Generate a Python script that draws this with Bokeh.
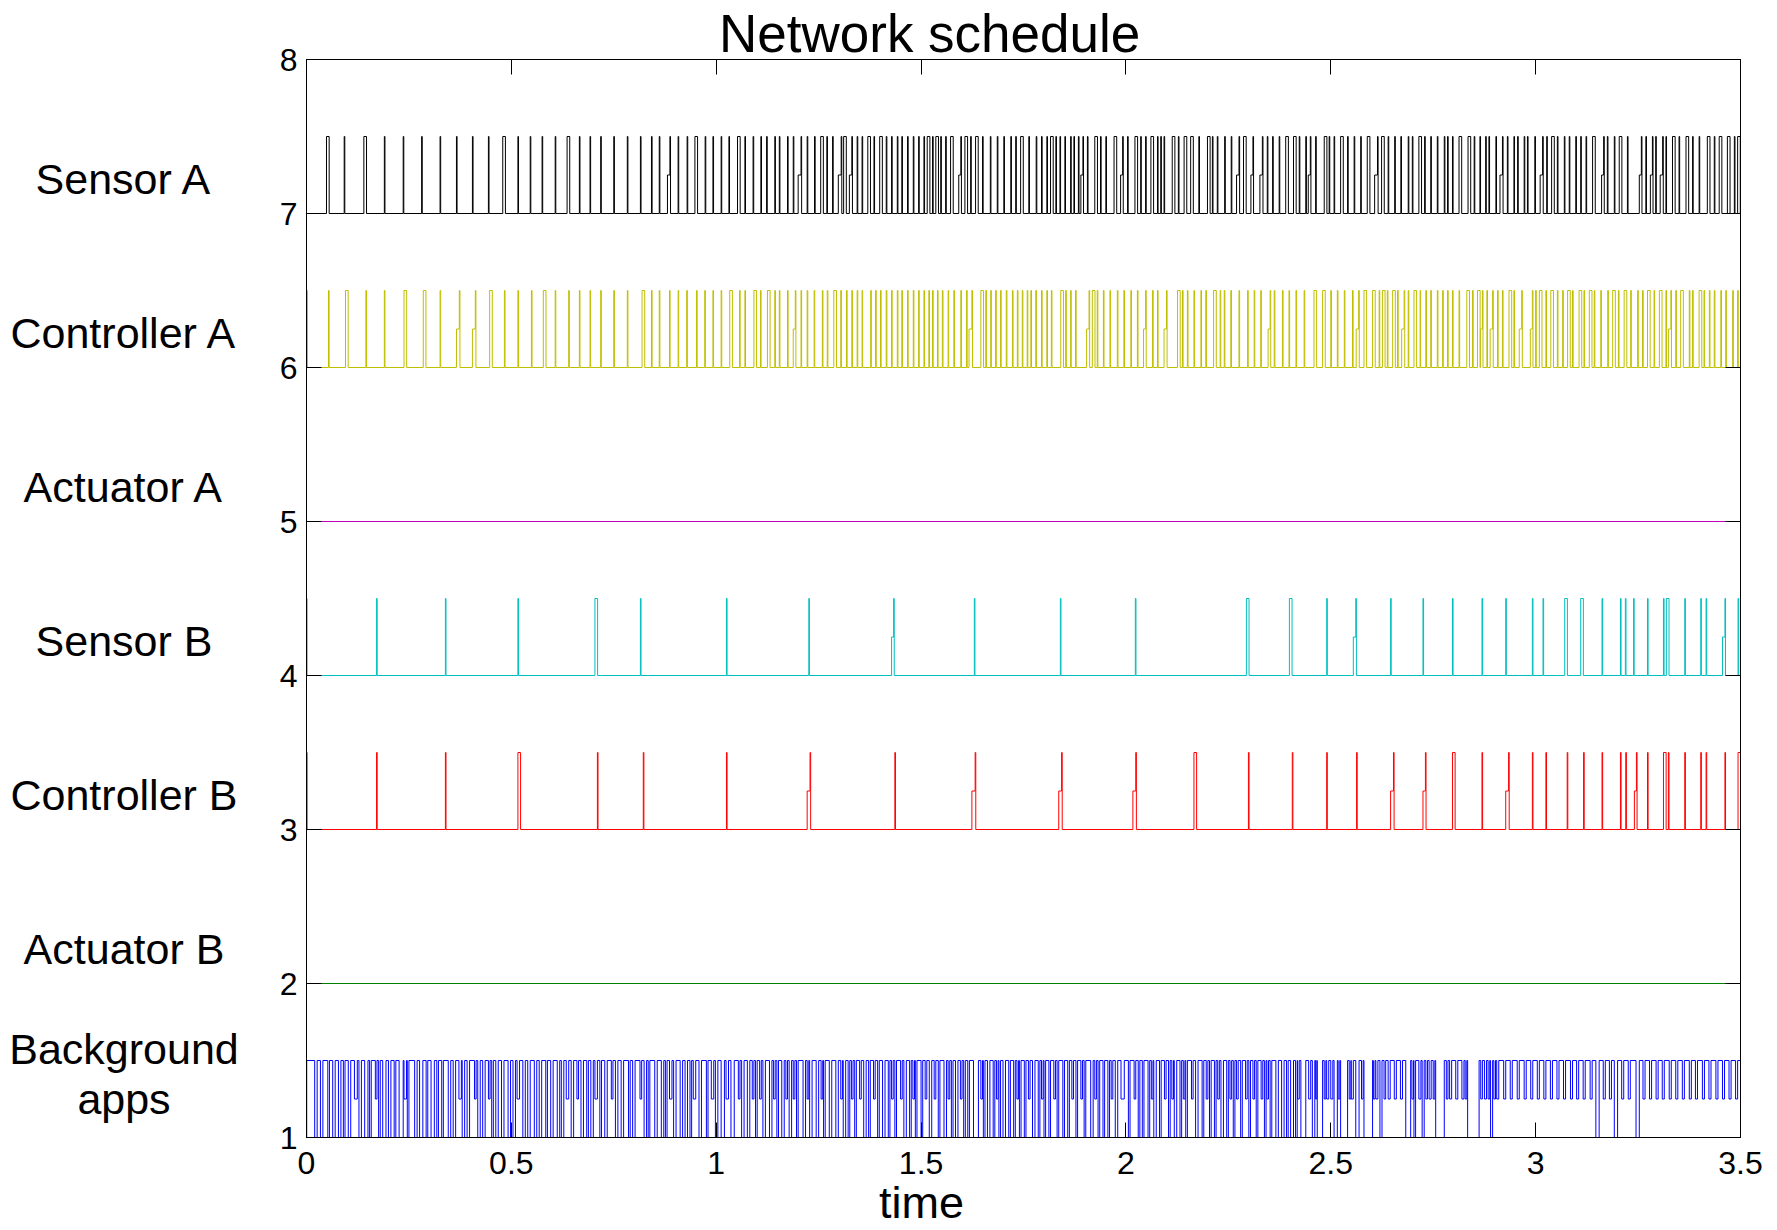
from bokeh.plotting import figure
from bokeh.models import FixedTicker, LinearAxis, Range1d, ColumnDataSource, Title
from bokeh.layouts import row
from bokeh.core.properties import value
from bokeh.embed import file_html
from bokeh.resources import INLINE

FONT = "Liberation Sans"

# ---------------- data ----------------
x_ticks = [0, 0.5, 1, 1.5, 2, 2.5, 3, 3.5]
x_tick_labels = ["0", "0.5", "1", "1.5", "2", "2.5", "3", "3.5"]
y_ticks = [1, 2, 3, 4, 5, 6, 7, 8]
title_text = "Network schedule"
x_label_text = "time"

row_names = ["Sensor A", "Controller A", "Actuator A", "Sensor B", "Controller B", "Actuator B"]
row_bases = [7, 6, 5, 4, 3, 2]
bg_name_lines = ["Background", "apps"]

T_END = 3.5
NARROW_DUR = 0.0015
WIDE_DUR = 0.0065

sensor_a_narrow = [0.092, 0.190, 0.236, 0.281, 0.326, 0.366, 0.405, 0.444, 0.516, 0.546, 0.575, 0.607,
                   0.666, 0.692, 0.718, 0.750, 0.783, 0.815, 0.842, 0.861, 0.887, 0.907, 0.929, 0.973,
                   0.992, 1.012, 1.031, 1.070, 1.090, 1.109, 1.123, 1.143, 1.154, 1.174, 1.188, 1.207,
                   1.222, 1.240, 1.270, 1.284, 1.305, 1.331, 1.344, 1.356, 1.385, 1.415, 1.428, 1.442,
                   1.453, 1.467, 1.481, 1.494, 1.507, 1.528, 1.548, 1.560, 1.597, 1.621, 1.650, 1.669,
                   1.686, 1.702, 1.719, 1.731, 1.763, 1.781, 1.794, 1.807, 1.829, 1.839, 1.851, 1.865,
                   1.873, 1.884, 1.895, 1.906, 1.938, 1.951, 1.992, 2.004, 2.036, 2.048, 2.077, 2.085,
                   2.093, 2.128, 2.178, 2.211, 2.223, 2.241, 2.257, 2.276, 2.310, 2.333, 2.345, 2.358,
                   2.374, 2.423, 2.439, 2.450, 2.463, 2.496, 2.508, 2.541, 2.557, 2.573, 2.614, 2.640,
                   2.656, 2.671, 2.689, 2.699, 2.729, 2.744, 2.760, 2.777, 2.785, 2.797, 2.850, 2.864,
                   2.878, 2.886, 2.903, 2.919, 2.931, 2.947, 2.956, 2.972, 2.980, 2.998, 3.017, 3.027,
                   3.053, 3.070, 3.082, 3.098, 3.110, 3.123, 3.166, 3.175, 3.192, 3.224, 3.258, 3.269,
                   3.285, 3.293, 3.310, 3.318, 3.350, 3.383, 3.399, 3.436, 3.485]
sensor_a_wide = [0.0488, 0.140, 0.479, 0.636, 0.948, 1.052, 1.255, 1.311, 1.370, 1.399, 1.515, 1.536,
                 1.572, 1.607, 1.633, 1.743, 1.816, 1.924, 1.971, 2.022, 2.061, 2.113, 2.142, 2.158,
                 2.199, 2.287, 2.390, 2.409, 2.484, 2.524, 2.589, 2.624, 2.715, 2.813, 2.835, 3.039,
                 3.139, 3.204, 3.334, 3.367, 3.419, 3.448, 3.468, 3.493]
sensor_a_wait = [0.881, 1.200, 1.298, 1.325, 1.592, 1.890, 1.987, 2.270, 2.305, 2.327, 2.445, 2.607,
                 2.913, 3.011, 3.161, 3.253, 3.280, 3.304]

ctrl_a_narrow = [0.001, 0.0537, 0.145, 0.190, 0.326, 0.373, 0.412, 0.483, 0.516, 0.549, 0.607, 0.640,
                 0.666, 0.692, 0.718, 0.750, 0.783, 0.842, 0.861, 0.886, 0.907, 0.928, 0.952, 0.972,
                 0.992, 1.012, 1.057, 1.070, 1.108, 1.143, 1.154, 1.174, 1.193, 1.207, 1.222, 1.239,
                 1.259, 1.271, 1.304, 1.318, 1.331, 1.344, 1.356, 1.377, 1.389, 1.401, 1.415, 1.428,
                 1.442, 1.453, 1.467, 1.481, 1.494, 1.507, 1.519, 1.528, 1.540, 1.552, 1.566, 1.580,
                 1.597, 1.611, 1.624, 1.658, 1.670, 1.682, 1.694, 1.708, 1.723, 1.735, 1.747, 1.759,
                 1.768, 1.780, 1.794, 1.807, 1.818, 1.853, 1.865, 1.877, 1.910, 1.930, 1.945, 1.961,
                 1.979, 1.995, 2.012, 2.028, 2.048, 2.065, 2.077, 2.099, 2.138, 2.150, 2.166, 2.183,
                 2.195, 2.230, 2.240, 2.256, 2.276, 2.297, 2.313, 2.329, 2.352, 2.362, 2.382, 2.398,
                 2.415, 2.435, 2.500, 2.516, 2.533, 2.553, 2.568, 2.618, 2.638, 2.663, 2.679, 2.689,
                 2.718, 2.732, 2.744, 2.760, 2.773, 2.785, 2.797, 2.813, 2.846, 2.870, 2.881, 2.895,
                 2.907, 2.919, 2.947, 2.966, 2.992, 3.000, 3.025, 3.053, 3.066, 3.090, 3.118, 3.143,
                 3.159, 3.176, 3.202, 3.232, 3.249, 3.261, 3.289, 3.318, 3.330, 3.342, 3.375, 3.383,
                 3.411, 3.424, 3.436, 3.452, 3.464, 3.481, 3.493]
ctrl_a_wide = [0.0952, 0.238, 0.285, 0.447, 0.578, 0.819, 1.033, 1.092, 1.125, 1.287, 1.646, 1.841,
               1.918, 2.126, 2.214, 2.459, 2.480, 2.581, 2.602, 2.626, 2.651, 2.703, 2.832, 2.858,
               2.935, 3.009, 3.037, 3.078, 3.106, 3.131, 3.188, 3.216, 3.273, 3.302, 3.354, 3.399]
ctrl_a_wait = [0.366, 0.405, 1.188, 1.617, 1.904, 2.043, 2.093, 2.347, 2.562, 2.673, 2.865, 2.889,
               2.960, 2.987, 3.324]

sens_b_narrow = [0.0, 0.171, 0.339, 0.516, 0.815, 1.025, 1.226, 1.433, 1.630, 1.840, 2.023, 2.490,
                 2.561, 2.646, 2.725, 2.797, 2.869, 2.927, 2.992, 3.018, 3.162, 3.207, 3.219, 3.239,
                 3.273, 3.312, 3.364, 3.403, 3.416, 3.462, 3.494]
sens_b_wide = [0.704, 2.294, 2.399, 3.071, 3.110, 3.319]
sens_b_wait = [1.428, 2.555, 3.456]

ctrl_b_narrow = [0.0, 0.171, 0.339, 0.710, 0.822, 1.025, 1.229, 1.436, 1.632, 1.843, 2.024, 2.299,
                 2.406, 2.490, 2.563, 2.653, 2.731, 2.869, 2.934, 2.992, 3.025, 3.077, 3.117, 3.162,
                 3.207, 3.220, 3.246, 3.273, 3.324, 3.364, 3.403, 3.416, 3.462]
ctrl_b_wide = [0.516, 2.166, 2.797, 3.312, 3.494]
ctrl_b_wait = [1.222, 1.624, 1.836, 2.017, 2.646, 2.725, 2.927, 3.241]

act_a_pulses = []
act_b_pulses = []

# background apps: mostly sending (1.5); idle dips (1.0) and waits (1.25)
bg_idle = [(0.0, 0.0005), (0.020, 0.026), (0.034, 0.040), (0.052, 0.056), (0.064, 0.070), (0.078, 0.084),
           (0.090, 0.094), (0.102, 0.108),
           (0.128, 0.134), (0.142, 0.150), (0.154, 0.158), (0.176, 0.180), (0.186, 0.194), (0.200, 0.206),
           (0.214, 0.218), (0.226, 0.236), (0.246, 0.250), (0.264, 0.270), (0.276, 0.284), (0.292, 0.296),
           (0.304, 0.312), (0.318, 0.322), (0.330, 0.334), (0.346, 0.352), (0.358, 0.364), (0.380, 0.386),
           (0.392, 0.398), (0.418, 0.424), (0.430, 0.436), (0.452, 0.456), (0.462, 0.468), (0.476, 0.482),
           (0.492, 0.498), (0.504, 0.510), (0.528, 0.534), (0.540, 0.546), (0.556, 0.562), (0.568, 0.574),
           (0.584, 0.588), (0.596, 0.602), (0.612, 0.618), (0.622, 0.628), (0.646, 0.652), (0.670, 0.676),
           (0.684, 0.688), (0.694, 0.700), (0.716, 0.720), (0.728, 0.734), (0.754, 0.760), (0.768, 0.774),
           (0.786, 0.790), (0.796, 0.802), (0.824, 0.830), (0.834, 0.838), (0.850, 0.856), (0.866, 0.872),
           (0.876, 0.880), (0.896, 0.902), (0.912, 0.918), (0.924, 0.930), (0.936, 0.940), (0.958, 0.964),
           (0.976, 0.980), (0.998, 1.004), (1.012, 1.020), (1.036, 1.044), (1.062, 1.068), (1.076, 1.082),
           (1.096, 1.100), (1.114, 1.120), (1.130, 1.136), (1.148, 1.152), (1.160, 1.166), (1.178, 1.184),
           (1.196, 1.200), (1.212, 1.218), (1.228, 1.234), (1.244, 1.250), (1.262, 1.266), (1.276, 1.282),
           (1.292, 1.298), (1.310, 1.316), (1.322, 1.326), (1.338, 1.342), (1.360, 1.366), (1.372, 1.376),
           (1.394, 1.398), (1.406, 1.412), (1.420, 1.424), (1.436, 1.440), (1.458, 1.464), (1.472, 1.476),
           (1.486, 1.490), (1.500, 1.504), (1.520, 1.526), (1.542, 1.546), (1.556, 1.562), (1.574, 1.578),
           (1.584, 1.590), (1.604, 1.608), (1.614, 1.618), (1.628, 1.640), (1.652, 1.656), (1.662, 1.668),
           (1.676, 1.680), (1.690, 1.694), (1.700, 1.706), (1.714, 1.718), (1.726, 1.730), (1.740, 1.744),
           (1.752, 1.756), (1.772, 1.778), (1.786, 1.790), (1.800, 1.804), (1.812, 1.816), (1.832, 1.836),
           (1.846, 1.850), (1.858, 1.862), (1.878, 1.882), (1.898, 1.902), (1.914, 1.920), (1.932, 1.936),
           (1.944, 1.948), (1.956, 1.960), (1.974, 1.980), (2.006, 2.010), (2.030, 2.034), (2.040, 2.044),
           (2.054, 2.058), (2.068, 2.074), (2.082, 2.086), (2.104, 2.108), (2.118, 2.124), (2.132, 2.136),
           (2.146, 2.150), (2.170, 2.176), (2.186, 2.190), (2.204, 2.208), (2.216, 2.220), (2.232, 2.238),
           (2.246, 2.250), (2.262, 2.266), (2.280, 2.284), (2.300, 2.304), (2.318, 2.322), (2.338, 2.342),
           (2.352, 2.356), (2.366, 2.372), (2.380, 2.386), (2.392, 2.396), (2.402, 2.409), (2.414, 2.418),
           (2.427, 2.439), (2.455, 2.461), (2.467, 2.480), (2.508, 2.516), (2.524, 2.541), (2.561, 2.569),
           (2.581, 2.602), (2.620, 2.625), (2.683, 2.695), (2.703, 2.707), (2.723, 2.728), (2.756, 2.777),
           (2.834, 2.862), (2.890, 2.895), (3.147, 3.155), (3.192, 3.200), (3.245, 3.253)]
bg_wait = [(0.117, 0.124), (0.168, 0.172), (0.238, 0.244), (0.372, 0.378), (0.410, 0.414), (0.444, 0.448),
           (0.514, 0.520), (0.634, 0.640), (0.660, 0.664), (0.704, 0.710), (0.744, 0.748), (0.814, 0.818),
           (0.886, 0.892), (0.944, 0.950), (0.988, 0.994), (1.024, 1.030), (1.054, 1.058), (1.088, 1.092),
           (1.106, 1.110), (1.140, 1.144), (1.170, 1.174), (1.188, 1.192), (1.222, 1.226), (1.256, 1.260),
           (1.304, 1.308), (1.330, 1.334), (1.350, 1.354), (1.384, 1.388), (1.428, 1.432), (1.450, 1.454),
           (1.480, 1.484), (1.510, 1.514), (1.532, 1.536), (1.566, 1.570), (1.596, 1.600), (1.646, 1.650),
           (1.684, 1.688), (1.734, 1.738), (1.762, 1.766), (1.794, 1.798), (1.824, 1.828), (1.868, 1.872),
           (1.890, 1.894), (1.924, 1.928), (1.964, 1.968), (1.988, 1.996), (2.020, 2.024), (2.062, 2.066),
           (2.094, 2.098), (2.112, 2.116), (2.140, 2.144), (2.160, 2.164), (2.196, 2.200), (2.224, 2.228),
           (2.254, 2.258), (2.270, 2.274), (2.292, 2.296), (2.310, 2.314), (2.330, 2.334), (2.344, 2.348),
           (2.419, 2.423), (2.446, 2.451), (2.463, 2.466), (2.484, 2.488), (2.490, 2.495), (2.500, 2.505),
           (2.518, 2.522), (2.545, 2.549), (2.550, 2.555), (2.575, 2.579), (2.604, 2.608), (2.610, 2.615),
           (2.630, 2.634), (2.640, 2.645), (2.655, 2.660), (2.670, 2.675), (2.698, 2.702), (2.715, 2.720),
           (2.732, 2.736), (2.740, 2.745), (2.750, 2.754), (2.782, 2.786), (2.790, 2.795), (2.805, 2.810),
           (2.820, 2.825), (2.828, 2.832), (2.866, 2.870), (2.875, 2.880), (2.884, 2.888), (2.898, 2.902),
           (2.905, 2.910), (2.922, 2.927), (2.938, 2.943),
           (2.955, 2.960), (2.972, 2.977), (2.988, 2.993), (3.004, 3.009), (3.020, 3.025), (3.036, 3.041),
           (3.052, 3.057), (3.068, 3.073), (3.085, 3.090), (3.100, 3.105), (3.116, 3.121), (3.133, 3.138),
           (3.165, 3.170), (3.180, 3.185), (3.210, 3.215), (3.226, 3.231), (3.262, 3.267), (3.278, 3.283),
           (3.294, 3.299), (3.309, 3.314), (3.326, 3.331), (3.342, 3.347), (3.358, 3.363), (3.375, 3.380),
           (3.390, 3.395), (3.407, 3.412), (3.423, 3.428), (3.440, 3.445), (3.456, 3.461), (3.472, 3.477),
           (3.488, 3.493)]

colors = {"Sensor A": "#000000", "Controller A": "#bfbf00", "Actuator A": "#bf00bf",
          "Sensor B": "#00bfbf", "Controller B": "#ff0000", "Actuator B": "#008000",
          "Background": "#0000ff"}

# ---------------- layout geometry (pixels) ----------------
TOTAL_W = 1777
TOTAL_H = 1230
NAMES_W = 246
MAIN_LEFT = 60
FRAME_W = 1434
MAIN_RIGHT = TOTAL_W - NAMES_W - MAIN_LEFT - FRAME_W
FRAME_H = 1078
MAIN_TOP = 59
MAIN_BOTTOM = TOTAL_H - MAIN_TOP - FRAME_H
TEXT_SHIFT = 0.42   # em; compensates the text glyph baseline placement


# ---------------- helpers ----------------
def trace(base, segs, t_end=T_END):
    xs, ys = [0.0], [base]
    level, last = base, 0.0
    for s, e, l in sorted(segs):
        s = max(s, last)
        e = min(e, t_end)
        if e <= s:
            continue
        if s > last and level != base:
            xs += [last, last]
            ys += [level, base]
            level = base
        xs += [s, s]
        ys += [level, l]
        level, last = l, e
    xs += [last, last, t_end]
    ys += [level, base, base]
    return xs, ys


def node_path(base, narrow, wide, waits):
    segs = [(t, t + NARROW_DUR, base + 0.5) for t in narrow]
    segs += [(t, t + WIDE_DUR, base + 0.5) for t in wide]
    starts = sorted(s for s, _, _ in segs)
    for w in waits:
        nxt = min(s for s in starts if s > w)
        segs.append((w, nxt, base + 0.25))
    return trace(base, segs)


# ---------------- main figure ----------------
y_range = Range1d(1, 8)
p = figure(frame_width=FRAME_W, frame_height=FRAME_H, min_border_left=MAIN_LEFT, min_border_right=MAIN_RIGHT,
           min_border_top=MAIN_TOP, min_border_bottom=MAIN_BOTTOM, x_range=Range1d(0, 3.5), y_range=y_range,
           output_backend="svg", toolbar_location=None)
p.title = Title(text=title_text, align="left", offset=412.5, vertical_align="bottom", standoff=-6,
                text_font=FONT, text_font_size="53px", text_font_style="normal", text_color="black")
p.title_location = "above"
p.background_fill_color = "white"
p.border_fill_color = "white"
p.outline_line_color = "black"
p.outline_line_width = 1
p.xgrid.visible = False
p.ygrid.visible = False

series = [
    ("Sensor A", 7, sensor_a_narrow, sensor_a_wide, sensor_a_wait),
    ("Controller A", 6, ctrl_a_narrow, ctrl_a_wide, ctrl_a_wait),
    ("Actuator A", 5, act_a_pulses, [], []),
    ("Sensor B", 4, sens_b_narrow, sens_b_wide, sens_b_wait),
    ("Controller B", 3, ctrl_b_narrow, ctrl_b_wide, ctrl_b_wait),
    ("Actuator B", 2, act_b_pulses, [], []),
]

bg_segs = [(s, e, 1.0) for s, e in bg_idle] + [(s, e, 1.25) for s, e in bg_wait]
bxs, bys = trace(1.5, bg_segs)
p.line(bxs, bys, line_color=colors["Background"], line_width=1)

for name, base, nar, wid, wai in reversed(series):
    xs, ys = node_path(base, nar, wid, wai)
    p.line(xs, ys, line_color=colors[name], line_width=1)


def style_axis(ax, show_labels):
    ax.axis_line_color = "black"
    ax.axis_line_width = 1
    ax.major_tick_in = 15
    ax.major_tick_out = 0
    ax.major_tick_line_color = "black"
    ax.minor_tick_line_color = None
    if show_labels:
        ax.major_label_text_font = FONT
        ax.major_label_text_font_size = "32px"
        ax.major_label_text_color = "black"
    else:
        ax.major_label_text_font_size = "0px"
        ax.major_label_text_color = None
        ax.major_label_standoff = 0


p.xaxis.ticker = FixedTicker(ticks=x_ticks)
p.xaxis.major_label_overrides = {t: lab for t, lab in zip(x_ticks, x_tick_labels)}
p.yaxis.ticker = FixedTicker(ticks=y_ticks)
style_axis(p.xaxis[0], True)
style_axis(p.yaxis[0], True)
p.xaxis.major_label_standoff = 14
p.yaxis.major_label_standoff = 9

top_ax = LinearAxis(ticker=FixedTicker(ticks=x_ticks))
right_ax = LinearAxis(ticker=FixedTicker(ticks=y_ticks))
style_axis(top_ax, False)
style_axis(right_ax, False)
p.add_layout(top_ax, "above")
p.add_layout(right_ax, "right")

p.add_layout(Title(text=x_label_text, align="left", offset=572.5, vertical_align="top", standoff=1,
                   text_font=FONT, text_font_size="45px", text_font_style="normal", text_color="black"),
             "below")

# ---------------- row names (left strip, shares the y scale) ----------------
NAME_SIZE = 43
name_shift = TEXT_SHIFT * NAME_SIZE / (FRAME_H / 7.0)
names = figure(frame_width=NAMES_W, frame_height=FRAME_H, x_range=Range1d(0, NAMES_W), y_range=y_range,
               x_axis_type=None, y_axis_type=None, output_backend="svg", toolbar_location=None,
               title=None, min_border_left=0, min_border_right=0, min_border_top=MAIN_TOP,
               min_border_bottom=MAIN_BOTTOM)
names.title_location = None
names.outline_line_color = None
names.background_fill_color = "white"
names.border_fill_color = "white"
NAME_X = 123.5
name_src = ColumnDataSource(dict(
    x=[NAME_X] * (len(row_names) + 2),
    y=[b + 0.11 + name_shift for b in row_bases] + [1.46 + name_shift, 1.13 + name_shift],
    text=row_names + bg_name_lines,
))
names.text(x="x", y="y", text="text", source=name_src, text_font=value(FONT),
           text_font_size=value(f"{NAME_SIZE}px"),
           text_align="center", text_baseline="alphabetic", text_color="black")

layout = row(names, p, spacing=0)
open("out.html", "w").write(file_html(layout, INLINE))
